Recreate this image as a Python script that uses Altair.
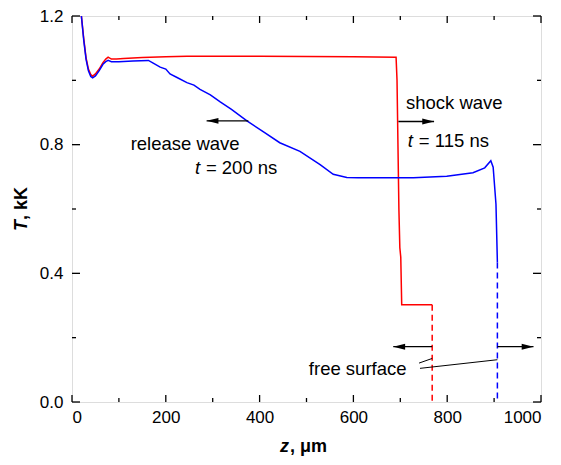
import altair as alt
import pandas as pd

# ---- data ----
red_z = [20, 25, 30, 35, 40, 44, 50, 58, 66, 72, 77, 84, 95, 110, 150, 200, 245, 300, 400, 500, 600, 691, 693, 695, 697, 699, 701, 703, 768]
red_T = [1.2, 1.13, 1.07, 1.035, 1.018, 1.013, 1.02, 1.035, 1.055, 1.066, 1.072, 1.066, 1.066, 1.068, 1.071, 1.073, 1.075, 1.075, 1.075, 1.074, 1.073, 1.072, 1.0, 0.8, 0.6, 0.48, 0.45, 0.302, 0.302]

blue_z = [20, 25, 30, 35, 40, 44, 50, 58, 66, 72, 77, 84, 100, 130, 163, 175, 188, 200, 209, 225, 245, 260, 273, 295, 316, 340, 373, 410, 443, 486, 529, 557, 586, 610, 650, 728, 799, 855, 880, 893, 898, 904, 907]
blue_T = [1.2, 1.125, 1.065, 1.03, 1.012, 1.008, 1.014, 1.03, 1.05, 1.058, 1.062, 1.058, 1.058, 1.06, 1.062, 1.052, 1.041, 1.035, 1.02, 1.008, 0.993, 0.985, 0.972, 0.955, 0.933, 0.91, 0.874, 0.838, 0.806, 0.779, 0.738, 0.708, 0.698, 0.697, 0.697, 0.697, 0.702, 0.713, 0.728, 0.75, 0.73, 0.615, 0.434]

# dashed free-surface markers
dash_red_z = [768, 768]
dash_red_T = [0.302, 0.0]
dash_blue_z = [907, 907]
dash_blue_T = [0.434, 0.0]

# arrows: (start z, tip z, T)
arrow_start = [376, 696, 768, 907]
arrow_tip = [287, 772, 685, 984]
arrow_T = [0.874, 0.872, 0.172, 0.172]
arrow_dir = ["left", "right", "left", "right"]

# leader lines for "free surface"
lead_z1 = [740, 742]
lead_T1 = [0.121, 0.1046]
lead_z2 = [768, 907]
lead_T2 = [0.1354, 0.1314]

# tick values
x_major = [0, 200, 400, 600, 800, 1000]
x_minor = [100, 300, 500, 700, 900]
y_major = [0.0, 0.4, 0.8, 1.2]
y_minor = [0.2, 0.6, 1.0]

# axis titles (italic symbol + bold unit part)
x_title_sym, x_title_unit = "z", ", μm"
y_title_sym, y_title_unit = "T", ", kK"

FONT = "Liberation Sans"
W, H = 469, 386

xs = alt.Scale(domain=[0, 1000], nice=False)
ys = alt.Scale(domain=[0, 1.2], nice=False, zero=False)

red_df = pd.DataFrame({"z": red_z, "T": red_T, "i": range(len(red_z))})
blue_df = pd.DataFrame({"z": blue_z, "T": blue_T, "i": range(len(blue_z))})

def curve(df, color):
    return alt.Chart(df).mark_line(color=color, strokeWidth=1.5, clip=True).encode(
        x=alt.X("z:Q", scale=xs, title=None,
                axis=alt.Axis(values=x_major, format="d", ticks=False, domain=False, grid=False,
                              labelFont=FONT, labelFontSize=17, labelColor="black",
                              labelPadding=7)),
        y=alt.Y("T:Q", scale=ys, title=None,
                axis=alt.Axis(values=y_major, format=".1f", ticks=False, domain=False, grid=False,
                              labelFont=FONT, labelFontSize=17, labelColor="black",
                              labelPadding=9)),
        order="i:Q",
    )

def dashed(zs, Ts, color):
    df = pd.DataFrame({"z": zs, "T": Ts})
    return alt.Chart(df).mark_line(color=color, strokeWidth=1.5, strokeDash=[6, 4]).encode(
        x=alt.X("z:Q", scale=xs), y=alt.Y("T:Q", scale=ys))

arr_df = pd.DataFrame({"z1": arrow_start, "z2": arrow_tip, "T": arrow_T, "dir": arrow_dir})
arrow_lines = alt.Chart(arr_df).mark_rule(color="black", strokeWidth=1.3).encode(
    x=alt.X("z1:Q", scale=xs), x2="z2:Q", y=alt.Y("T:Q", scale=ys))
left_head = alt.Chart(arr_df[arr_df.dir == "left"]).mark_point(
    shape="M0,0 L2,-0.5 L2,0.5 Z", filled=True, color="black", opacity=1, size=140).encode(
    x=alt.X("z2:Q", scale=xs), y=alt.Y("T:Q", scale=ys))
right_head = alt.Chart(arr_df[arr_df.dir == "right"]).mark_point(
    shape="M0,0 L-2,-0.5 L-2,0.5 Z", filled=True, color="black", opacity=1, size=140).encode(
    x=alt.X("z2:Q", scale=xs), y=alt.Y("T:Q", scale=ys))

lead_df = pd.DataFrame({"z1": lead_z1, "T1": lead_T1, "z2": lead_z2, "T2": lead_T2})
leaders = alt.Chart(lead_df).mark_rule(color="black", strokeWidth=1).encode(
    x=alt.X("z1:Q", scale=xs), y=alt.Y("T1:Q", scale=ys), x2="z2:Q", y2="T2:Q")

TS = 18.5
def txt(text, z, T, align="left", style="normal", dx=0):
    df = pd.DataFrame({"z": [z], "T": [T], "s": [text]})
    return alt.Chart(df).mark_text(font=FONT, fontSize=TS, align=align, baseline="middle",
                                   fontStyle=style, color="black", dx=dx).encode(
        x=alt.X("z:Q", scale=xs), y=alt.Y("T:Q", scale=ys), text="s:N")

texts = [
    txt("release wave", 125, 0.802),
    txt("t", 262, 0.726, style="italic"),
    txt("= 200 ns", 262, 0.726, dx=11),
    txt("shock wave", 712, 0.928),
    txt("t", 716, 0.81, style="italic"),
    txt("= 115 ns", 716, 0.81, dx=11),
    txt("free surface", 505, 0.1025),
]

def title_piece(text, px, py, style, angle=0):
    df = pd.DataFrame({"s": [text]})
    return alt.Chart(df).mark_text(font=FONT, fontSize=18, fontWeight="bold", fontStyle=style,
                                   align="left", baseline="middle", angle=angle,
                                   color="black").encode(
        x=alt.value(px), y=alt.value(py), text="s:N")

titles = [
    title_piece(x_title_sym, 208, 431, "italic"),
    title_piece(x_title_unit, 218, 431, "normal"),
    title_piece(y_title_sym, -50, 215, "italic", angle=270),
    title_piece(y_title_unit, -50, 204, "normal", angle=270),
]

def xticks(vals, y1, y2):
    return alt.Chart(pd.DataFrame({"v": vals})).mark_rule(color="black", strokeWidth=1.3).encode(
        x=alt.X("v:Q", scale=xs), y=alt.value(y1), y2=alt.value(y2))

def yticks(vals, x1, x2):
    return alt.Chart(pd.DataFrame({"v": vals})).mark_rule(color="black", strokeWidth=1.3).encode(
        y=alt.Y("v:Q", scale=ys), x=alt.value(x1), x2=alt.value(x2))

ticks = [
    xticks(x_major, H, H - 7), xticks(x_minor, H, H - 4),
    xticks(x_major, 0, 7), xticks(x_minor, 0, 4),
    yticks(y_major, 0, 8), yticks(y_minor, 0, 4),
    yticks(y_major, W, W - 8), yticks(y_minor, W, W - 4),
]

chart = alt.layer(
    curve(red_df, "#ff0000"), curve(blue_df, "#0000ff"),
    dashed(dash_red_z, dash_red_T, "#ff0000"), dashed(dash_blue_z, dash_blue_T, "#0000ff"),
    arrow_lines, left_head, right_head, leaders, *texts, *titles, *ticks,
).properties(
    width=W, height=H,
    autosize=alt.AutoSizeParams(type="none"),
    padding={"left": 64, "top": 8, "right": 12, "bottom": 55},
).configure_view(stroke="black", strokeWidth=1.6).configure(background="white")

chart.save("out.html", embed_options={"renderer": "svg", "actions": False})
